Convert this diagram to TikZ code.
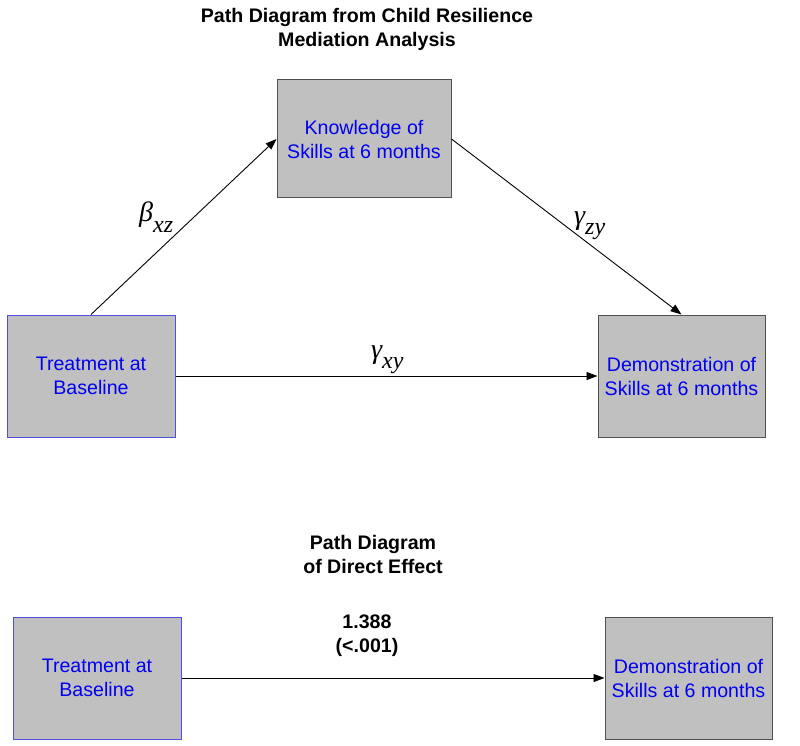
\documentclass[tikz,border=0pt]{standalone}
\usepackage{fontspec}
\setmainfont{Liberation Sans}
\newfontfamily\coeffont{Liberation Serif}
\usepackage{tikz}
\usetikzlibrary{shapes, arrows.meta, positioning}
\definecolor{boxgray}{HTML}{C0C0C0}
\definecolor{boxblue}{HTML}{0000F0}
\definecolor{edgeblue}{HTML}{5050E0}
\definecolor{edgegray}{HTML}{505050}
\newcommand{\coef}[2]{{\coeffont\itshape #1\raisebox{-10pt}{\fontsize{24}{24}\selectfont #2}}}

\begin{document}
\begin{tikzpicture}
  [
    x=1pt, y=-1pt,
    Box/.style={rectangle, draw=edgegray, fill=boxgray, line width=1pt, minimum width=168pt, minimum height=122pt, inner sep=0pt, align=center, text=boxblue, font=\fontsize{19.6}{24}\selectfont},
    BlueBox/.style={Box, draw=edgeblue},
    Title/.style={align=center, font=\bfseries\fontsize{19.6}{24}\selectfont},
    Coef/.style={anchor=base west, inner sep=0pt, font=\fontsize{28}{30}\selectfont},
    Arr/.style={-{Triangle[length=11pt, width=8pt]}, draw, line width=0.9pt}
  ]
  \useasboundingbox (0, 0) rectangle (800, 746);
  % Titles
  \node[Title] (title1) at(367, 29) {Path Diagram from Child Resilience\\Mediation Analysis};
  \node[Title] (title2) at(373, 554) {Path Diagram\\of Direct Effect};
  % Nodes
  \node[BlueBox] (treat) at(91, 376) {Treatment at\\Baseline};
  \node[Box, minimum width=174pt, minimum height=118pt] (know) at(364, 139) {Knowledge of\\Skills at 6 months};
  \node[Box, minimum width=167pt] (demo) at(681.5, 376) {Demonstration of\\Skills at 6 months};
  \node[BlueBox] (treatb) at(97, 678) {Treatment at\\Baseline};
  \node[Box, minimum width=167pt] (demob) at(688.5, 678) {Demonstration of\\Skills at 6 months};
  % Labels
  \node[Coef] (bxz) at(139, 222) {\coef{β}{xz}};
  \node[Coef] (gzy) at(574, 224) {\coef{γ}{zy}};
  \node[Coef] (gxy) at(371, 358) {\coef{γ}{xy}};
  \node[Title] (est) at(367, 636) {1.388\\(<.001)};
  % Lines
  \path [Arr] (treat.north) -- (know.west);
  \path [Arr] (know.east) -- (demo.north);
  \path [Arr] (treat.east) -- (demo.west);
  \path [Arr] (treatb.east) -- (demob.west);
\end{tikzpicture}
\end{document}
